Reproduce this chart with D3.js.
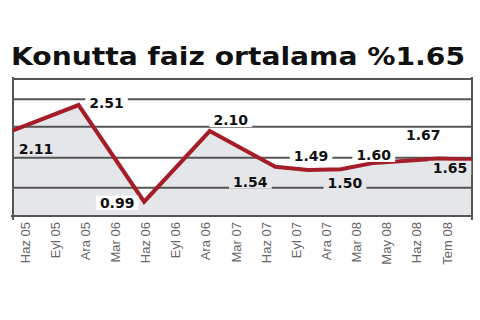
<!DOCTYPE html>
<html>
<head>
<meta charset="utf-8">
<script src="https://cdn.jsdelivr.net/npm/d3@7"></script>
<style>
  html, body { margin: 0; padding: 0; background: #fff; }
  svg { display: block; }
</style>
</head>
<body>
<div id="viz"></div>
<script>
(function() {
  var months, pointMonths, pointValues, gridValues, title, yMin, yMax;

  title = "Konutta faiz ortalama %1.65";

  months = ["Haz 05", "Eyl 05", "Ara 05", "Mar 06", "Haz 06", "Eyl 06", "Ara 06", "Mar 07",
            "Haz 07", "Eyl 07", "Ara 07", "Mar 08", "May 08", "Haz 08", "Tem 08"];

  pointMonths = ["Haz 05", "Ara 05", "Haz 06", "Ara 06", "Haz 07", "Eyl 07", "Ara 07", "Mar 08", "Haz 08", "Tem 08"];
  pointValues = [2.11, 2.51, 0.99, 2.10, 1.54, 1.49, 1.50, 1.60, 1.67, 1.65];

  // horizontal rules (no printed scale in the original)
  gridValues = [1.21, 1.68, 2.17, 2.60];
  yMin = 0.765;
  yMax = 2.919;

  var width = 480, height = 320;
  var left = 13, right = 472, top = 79, bottom = 216;

  var svg = d3.select("#viz").append("svg")
    .attr("width", width).attr("height", height);

  var x = d3.scalePoint().domain(months).range([left, right]);
  var xLab = d3.scalePoint().domain(months).range([25, 447]);
  var y = d3.scaleLinear().domain([yMin, yMax]).range([bottom, top]);

  var data = pointMonths.map(function(m, i) {
    return { m: m, v: pointValues[i] };
  });

  // title
  svg.append("text")
    .attr("x", 11).attr("y", 65)
    .attr("textLength", 454).attr("lengthAdjust", "spacingAndGlyphs")
    .style("font-family", "'DejaVu Sans', Verdana, sans-serif")
    .style("font-weight", "bold").style("font-size", "25px")
    .style("fill", "#111")
    .text(title);

  // area under the line
  var area = d3.area()
    .x(function(d) { return x(d.m); })
    .y0(bottom)
    .y1(function(d) { return y(d.v); });

  svg.append("path").datum(data)
    .attr("d", area)
    .style("fill", "#e4e6e9");

  // grid
  svg.selectAll("line.grid").data(gridValues).enter().append("line")
    .attr("class", "grid")
    .attr("x1", left).attr("x2", right)
    .attr("y1", function(d) { return y(d); })
    .attr("y2", function(d) { return y(d); })
    .style("stroke", "#555").style("stroke-width", 2);

  // frame
  var frame = svg.append("g").style("stroke", "#555").style("stroke-width", 2);
  frame.append("line").attr("x1", left).attr("x2", right).attr("y1", top).attr("y2", top);
  frame.append("line").attr("x1", left - 2).attr("x2", right + 1).attr("y1", bottom).attr("y2", bottom);
  frame.append("line").attr("x1", left).attr("x2", left).attr("y1", top - 2).attr("y2", bottom + 4);
  frame.append("line").attr("x1", right).attr("x2", right).attr("y1", top - 2).attr("y2", bottom + 4);

  // line
  var line = d3.line()
    .x(function(d) { return x(d.m); })
    .y(function(d) { return y(d.v); });

  svg.append("path").datum(data)
    .attr("d", line)
    .style("fill", "none")
    .style("stroke", "#a51d29")
    .style("stroke-width", 4)
    .style("stroke-linejoin", "miter");

  // value labels: [dx, dy, sits in the grey area]
  var place = [[23, 18, true], [28, -2, false], [-27, 1, false], [21, -11, false], [-25, 15, true],
               [3, -14, false], [4, 14, true], [0, -8, false], [-16, -23, false], [-22, 8, true]];

  var labels = svg.selectAll("g.lab").data(data).enter().append("g")
    .attr("class", "lab")
    .attr("transform", function(d, i) {
      return "translate(" + (x(d.m) + place[i][0]) + "," + (y(d.v) + place[i][1]) + ")";
    });

  labels.append("rect");
  labels.append("text")
    .attr("text-anchor", "middle")
    .attr("dy", "0.36em")
    .style("font-family", "'DejaVu Sans', Verdana, sans-serif")
    .style("font-weight", "bold").style("font-size", "14px")
    .style("fill", "#111")
    .text(function(d) { return d.v.toFixed(2); });

  labels.each(function(d, i) {
    var g = d3.select(this);
    var bb = g.select("text").node().getBBox();
    g.select("rect")
      .attr("x", bb.x - 4).attr("y", bb.y + 1)
      .attr("width", bb.width + 8).attr("height", bb.height - 2)
      .style("fill", place[i][2] ? "#e4e6e9" : "#fff");
  });

  // month labels
  svg.selectAll("text.month").data(months).enter().append("text")
    .attr("class", "month")
    .attr("transform", function(d) { return "translate(" + xLab(d) + ",222) rotate(-90)"; })
    .attr("text-anchor", "end")
    .attr("dy", "0.35em")
    .style("font-family", "'Liberation Sans', Arial, sans-serif")
    .style("font-size", "13px")
    .style("fill", "#666")
    .text(function(d) { return d; });
}).call(this);
</script>
</body>
</html>
